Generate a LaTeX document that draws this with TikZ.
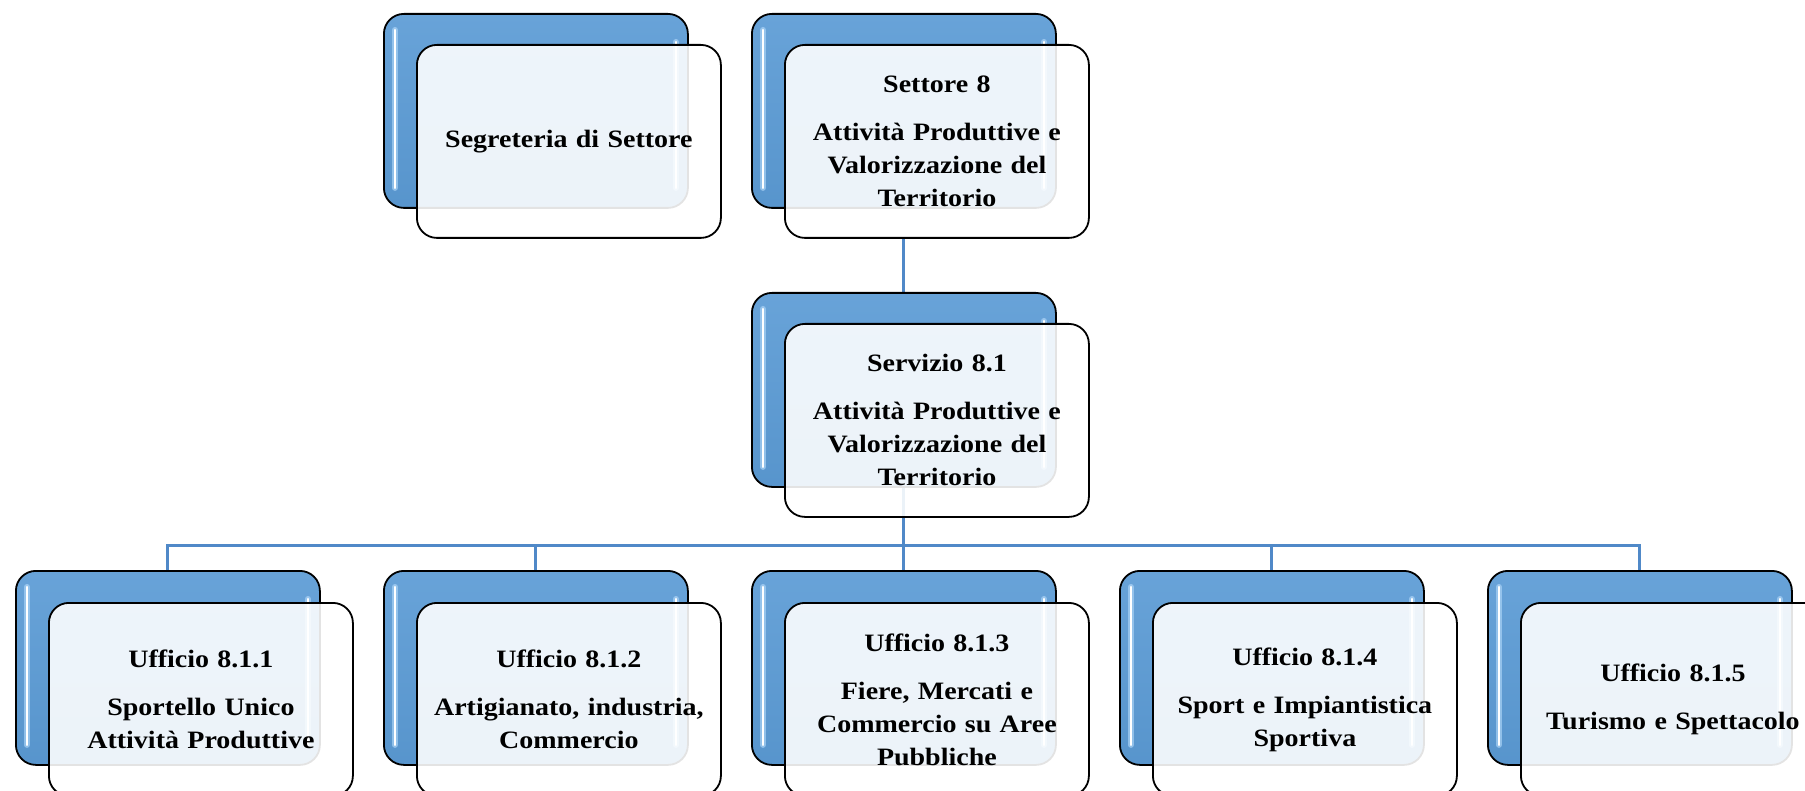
\documentclass[tikz,border=0pt]{standalone}
\usepackage{fontspec}
\setmainfont[FakeStretch=1.12]{Liberation Serif}
\usetikzlibrary{backgrounds}
\definecolor{boxblue}{HTML}{5B9BD5}
\definecolor{connblue}{HTML}{5089C8}
\definecolor{glow}{HTML}{A9D2F5}
\tikzset{
  backbox/.style={draw=black, line width=1.8pt, rounded corners=20pt,
    minimum width=304pt, minimum height=194pt, inner sep=0pt, anchor=north west,
    top color=boxblue!92!white, bottom color=boxblue!96!black,
    path picture={
      \draw[glow, line width=6pt, line cap=round, opacity=0.7]
        ([xshift=11pt,yshift=-16pt]path picture bounding box.north west) --
        ([xshift=11pt,yshift=20pt]path picture bounding box.south west);
      \draw[white, line width=2.5pt, line cap=round]
        ([xshift=11pt,yshift=-16pt]path picture bounding box.north west) --
        ([xshift=11pt,yshift=20pt]path picture bounding box.south west);
      \draw[glow, line width=6pt, line cap=round, opacity=0.7]
        ([xshift=-12pt,yshift=-28pt]path picture bounding box.north east) --
        ([xshift=-12pt,yshift=20pt]path picture bounding box.south east);
      \draw[white, line width=2.5pt, line cap=round]
        ([xshift=-12pt,yshift=-28pt]path picture bounding box.north east) --
        ([xshift=-12pt,yshift=20pt]path picture bounding box.south east);
    }},
  frontbox/.style={draw=black, line width=1.8pt, rounded corners=20pt,
    minimum width=304pt, minimum height=193pt, inner sep=0pt, anchor=north west,
    fill=white, fill opacity=0.89, text opacity=1, draw opacity=1,
    align=center, text width=300pt,
    font=\fontsize{25}{33}\selectfont\bfseries},
  conn/.style={draw=connblue, line width=3pt}
}
\begin{document}
\begin{tikzpicture}[x=1pt,y=-1pt]
\useasboundingbox (0,0) rectangle (1805,791);
% top row
\node[backbox] (segb) at (383,13) {};
\node[frontbox] (seg) at (416,44) {Segreteria di Settore};
\node[backbox] (s8b) at (751,13) {};
\node[frontbox] (s8) at (784,44) {Settore 8\\[15pt]Attività Produttive e\\Valorizzazione del\\Territorio};
% middle
\node[backbox] (s81b) at (751,292) {};
\node[frontbox] (s81) at (784,323) {Servizio 8.1\\[15pt]Attività Produttive e\\Valorizzazione del\\Territorio};
% bottom row
\node[backbox] (u1b) at (15,570) {};
\node[frontbox] (u1) at (48,602) {Ufficio 8.1.1\\[15pt]Sportello Unico\\Attività Produttive};
\node[backbox] (u2b) at (383,570) {};
\node[frontbox] (u2) at (416,602) {Ufficio 8.1.2\\[15pt]Artigianato, industria,\\Commercio};
\node[backbox] (u3b) at (751,570) {};
\node[frontbox] (u3) at (784,602) {Ufficio 8.1.3\\[15pt]Fiere, Mercati e\\Commercio su Aree\\Pubbliche};
\node[backbox] (u4b) at (1119,570) {};
\node[frontbox] (u4) at (1152,602) {Ufficio 8.1.4\\[15pt]Sport e Impiantistica\\Sportiva};
\node[backbox] (u5b) at (1487,570) {};
\node[frontbox] (u5) at (1520,602) {Ufficio 8.1.5\\[15pt]Turismo e Spettacolo};
% connectors
\coordinate (busy) at (0,545);
\coordinate (bus) at (s81b.center |- busy);
\begin{scope}[on background layer]
\draw[conn] (s8b.center |- s8.south) -- (s81b.north);
\draw[conn] (s81b.south) -- (bus);
\foreach \u in {u1b,u2b,u3b,u4b,u5b} \draw[conn] (bus) -| (\u.north);
\end{scope}
\end{tikzpicture}
\end{document}
